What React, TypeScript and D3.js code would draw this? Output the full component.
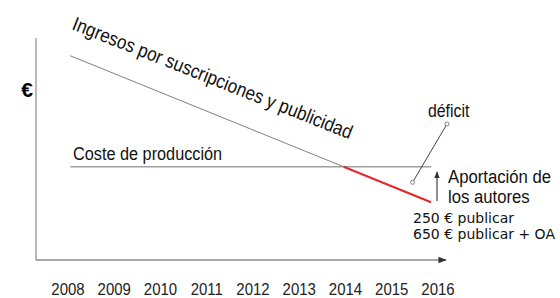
import React, { useRef, useEffect } from 'react';
import * as d3 from 'd3';

// years on the x axis
const years = [2008, 2009, 2010, 2011, 2012, 2013, 2014, 2015, 2016];

// income line (subscriptions + advertising), arbitrary € units
const incomeYears = [2008.05, 2015.85];
const incomeValues = [92, 26];

// production cost (flat)
const costYears = [2008.05, 2015.85];
const costValues = [42, 42];

// point the "déficit" label points at
const deficitPoint = { year: 2015.45, value: 35 };

const authorLines = ['Aportación de', 'los autores'];
const priceLines = ['250 € publicar', '650 € publicar + OA'];

const SX = 0.88; // the source picture is squeezed horizontally

const Chart = () => {
  const ref = useRef(null);

  useEffect(() => {
    const svg = d3.select(ref.current);
    svg.selectAll('*').remove();

    const x = d3.scaleLinear().domain([2008, 2016]).range([68, 438]);
    const y = d3.scaleLinear().domain([0, 100]).range([260, 38]);

    const font = 'Liberation Sans, Arial, sans-serif';

    const label = (g, tx, ty, txt, size, extra = '') =>
      g
        .append('text')
        .attr('transform', `translate(${tx},${ty}) ${extra} scale(${SX},1)`)
        .attr('font-family', font)
        .attr('font-size', size)
        .attr('fill', '#111')
        .text(txt);

    const defs = svg.append('defs');
    defs
      .append('marker')
      .attr('id', 'arr')
      .attr('viewBox', '0 0 10 10')
      .attr('refX', 9)
      .attr('refY', 5)
      .attr('markerWidth', 7)
      .attr('markerHeight', 7)
      .attr('orient', 'auto')
      .append('path')
      .attr('d', 'M0,1L10,5L0,9z')
      .attr('fill', '#333');

    // axes
    svg
      .append('line')
      .attr('x1', 36)
      .attr('x2', 36)
      .attr('y1', 38)
      .attr('y2', 260)
      .attr('stroke', '#8a8a8a')
      .attr('stroke-width', 1.2);
    svg
      .append('line')
      .attr('x1', 36)
      .attr('x2', 446)
      .attr('y1', 260)
      .attr('y2', 260)
      .attr('stroke', '#555')
      .attr('stroke-width', 1.2)
      .attr('marker-end', 'url(#arr)');

    svg
      .append('g')
      .selectAll('text')
      .data(years)
      .enter()
      .append('text')
      .attr('transform', (d) => `translate(${x(d)},295) scale(${SX},1)`)
      .attr('text-anchor', 'middle')
      .attr('font-family', font)
      .attr('font-size', 17)
      .attr('fill', '#222')
      .text((d) => d);

    svg
      .append('text')
      .attr('x', 27)
      .attr('y', 97)
      .attr('text-anchor', 'middle')
      .attr('font-family', font)
      .attr('font-weight', 'bold')
      .attr('font-size', 21)
      .text('€');

    const line = d3
      .line()
      .x((d) => x(d[0]))
      .y((d) => y(d[1]));

    // production cost
    svg
      .append('path')
      .attr('d', line(costYears.map((c, i) => [c, costValues[i]])))
      .attr('stroke', '#a0a0a0')
      .attr('stroke-width', 1.6)
      .attr('fill', 'none');

    // income line, gray before the crossing and red after
    const t = (incomeValues[0] - costValues[0]) / (incomeValues[0] - incomeValues[1]);
    const crossYear = incomeYears[0] + t * (incomeYears[1] - incomeYears[0]);
    svg
      .append('path')
      .attr('d', line([[incomeYears[0], incomeValues[0]], [crossYear, costValues[0]]]))
      .attr('stroke', '#808080')
      .attr('stroke-width', 1)
      .attr('fill', 'none');
    svg
      .append('path')
      .attr('d', line([[crossYear, costValues[0]], [incomeYears[1], incomeValues[1]]]))
      .attr('stroke', '#e8262a')
      .attr('stroke-width', 2)
      .attr('fill', 'none');

    // income label along the line
    const angle =
      (Math.atan2(y(incomeValues[1]) - y(incomeValues[0]), x(incomeYears[1]) - x(incomeYears[0])) * 180) / Math.PI;
    label(svg, 71, 29, 'Ingresos por suscripciones y publicidad', 19.5, `rotate(${angle - 0.5})`);

    label(svg, 73, 160, 'Coste de producción', 18.5);

    // déficit pointer
    const px = x(deficitPoint.year);
    const py = y(deficitPoint.value);
    svg
      .append('line')
      .attr('x1', 447)
      .attr('y1', 124)
      .attr('x2', px)
      .attr('y2', py)
      .attr('stroke', '#444')
      .attr('stroke-width', 1);
    svg
      .selectAll('circle.end')
      .data([[447, 124], [px, py]])
      .enter()
      .append('circle')
      .attr('cx', (d) => d[0])
      .attr('cy', (d) => d[1])
      .attr('r', 2)
      .attr('fill', '#fff')
      .attr('stroke', '#666')
      .attr('stroke-width', 0.8);
    label(svg, 428, 117, 'déficit', 18);

    // authors' contribution arrow
    svg
      .append('line')
      .attr('x1', 437)
      .attr('x2', 437)
      .attr('y1', 201)
      .attr('y2', 172)
      .attr('stroke', '#222')
      .attr('stroke-width', 1)
      .attr('marker-end', 'url(#arr)');

    authorLines.forEach((d, i) => label(svg, 448, 183 + i * 20, d, 19));

    svg
      .append('g')
      .selectAll('text')
      .data(priceLines)
      .enter()
      .append('text')
      .attr('x', 413)
      .attr('y', (d, i) => 223 + i * 16)
      .attr('font-family', 'DejaVu Sans, Verdana, sans-serif')
      .attr('font-size', 14)
      .attr('fill', '#111')
      .text((d) => d);
  }, []);

  return <svg ref={ref} width={560} height={298} style={{ display: 'block' }} />;
};

export default function App() {
  return (
    <div style={{ position: 'absolute', left: 0, top: 0, background: '#fff' }}>
      <Chart />
    </div>
  );
}
